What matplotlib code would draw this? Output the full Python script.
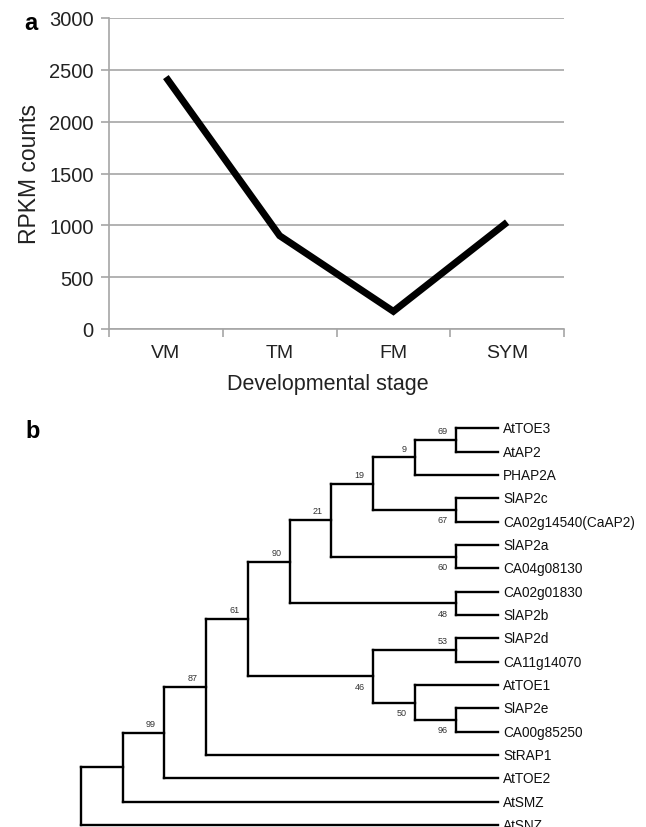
import numpy as np
import matplotlib
matplotlib.use("Agg")
import matplotlib.pyplot as plt

plt.rcParams['font.family'] = ['Liberation Sans', 'DejaVu Sans']

# panel a: expression per stage
stages = ['VM', 'TM', 'FM', 'SYM']
rpkm = [2430, 900, 170, 1030]
y_ticks = [0, 500, 1000, 1500, 2000, 2500, 3000]

# panel b: cladogram, node = (bootstrap, upper child, lower child)
n69 = (69, 'AtTOE3', 'AtAP2')
n9 = (9, n69, 'PHAP2A')
n67 = (67, 'SlAP2c', 'CA02g14540(CaAP2)')
n19 = (19, n9, n67)
n60 = (60, 'SlAP2a', 'CA04g08130')
n21 = (21, n19, n60)
n48 = (48, 'CA02g01830', 'SlAP2b')
n90 = (90, n21, n48)
n53 = (53, 'SlAP2d', 'CA11g14070')
n96 = (96, 'SlAP2e', 'CA00g85250')
n50 = (50, 'AtTOE1', n96)
n46 = (46, n53, n50)
n61 = (61, n90, n46)
n87 = (87, n61, 'StRAP1')
n99 = (99, n87, 'AtTOE2')
n_smz = (None, n99, 'AtSMZ')
tree = (None, n_smz, 'AtSNZ')

W, H = 646, 828
fig = plt.figure(figsize=(W / 100, H / 100), dpi=100)

# ---- panel a ----
grey = '#a6a6a6'
ax = fig.add_axes([109 / W, 1 - 330 / H, (564 - 109) / W, (330 - 19) / H])
x = np.arange(len(stages))
ax.plot(x, rpkm, color='black', lw=5, solid_joinstyle='miter', solid_capstyle='butt')
ax.set_xlim(-0.5, len(stages) - 0.5)
ax.set_ylim(0, 3000)
ax.set_yticks(y_ticks)
ax.yaxis.grid(True, color=grey, lw=1.2)
ax.set_axisbelow(True)
ax.set_xticks(x)
ax.set_xticklabels(stages)
ax.set_xticks(np.arange(-0.5, len(stages)), minor=True)
ax.tick_params(axis='x', which='major', length=0, pad=11, labelsize=14, labelcolor='#222222')
ax.tick_params(axis='x', which='minor', length=6, width=1.2, color=grey)
ax.tick_params(axis='y', length=6, width=1.2, color=grey, pad=5, labelsize=14.5, labelcolor='#222222')
for s in ['top', 'right']:
    ax.spines[s].set_visible(False)
for s in ['left', 'bottom']:
    ax.spines[s].set_color(grey)
    ax.spines[s].set_linewidth(1.2)
ax.set_ylabel('RPKM counts', fontsize=16.5, color='#222222')
ax.yaxis.set_label_coords(-0.15, 0.5)
ax.set_xlabel('Developmental stage', fontsize=15.5, color='#222222')
ax.xaxis.set_label_coords(0.48, -0.14)
fig.text(31 / W, 1 - 23 / H, 'a', fontsize=17, fontweight='bold', ha='center', va='center')

# ---- panel b ----
fig.text(33 / W, 1 - 432 / H, 'b', fontsize=17, fontweight='bold', ha='center', va='center')
axt = fig.add_axes([0, 0, 1, 1])
x_unit, y_unit = 41.7, 23.34   # px per level / per leaf
x_root, y_first = 81, 429.3
axt.set_xlim(-x_root / x_unit, (W - x_root) / x_unit)
axt.set_ylim((H - y_first) / y_unit, -y_first / y_unit)
axt.axis('off')

depth = 10
leaf_count = [0]
lw = 1.7


def draw(node, upper=True):
    if isinstance(node, str):
        y = leaf_count[0]
        leaf_count[0] += 1
        axt.text(depth + 0.12, y, node, fontsize=9.8, va='center', ha='left', color='#111111')
        return y, 0
    support, a, b = node
    ya, ha_ = draw(a, True)
    yb, hb = draw(b, False)
    h = max(ha_, hb) + 1
    xn = depth - h
    axt.plot([xn, xn], [ya, yb], color='black', lw=lw, solid_capstyle='projecting')
    axt.plot([xn, depth - ha_], [ya, ya], color='black', lw=lw, solid_capstyle='projecting')
    axt.plot([xn, depth - hb], [yb, yb], color='black', lw=lw, solid_capstyle='projecting')
    ym = (ya + yb) / 2
    if support is not None:
        dy = -0.4 if upper else 0.42
        axt.text(xn - 0.2, ym + dy, str(support), fontsize=6.5, color='#333333',
                 ha='right', va='center')
    return ym, h


draw(tree)

fig.savefig('out.png', dpi=100)
